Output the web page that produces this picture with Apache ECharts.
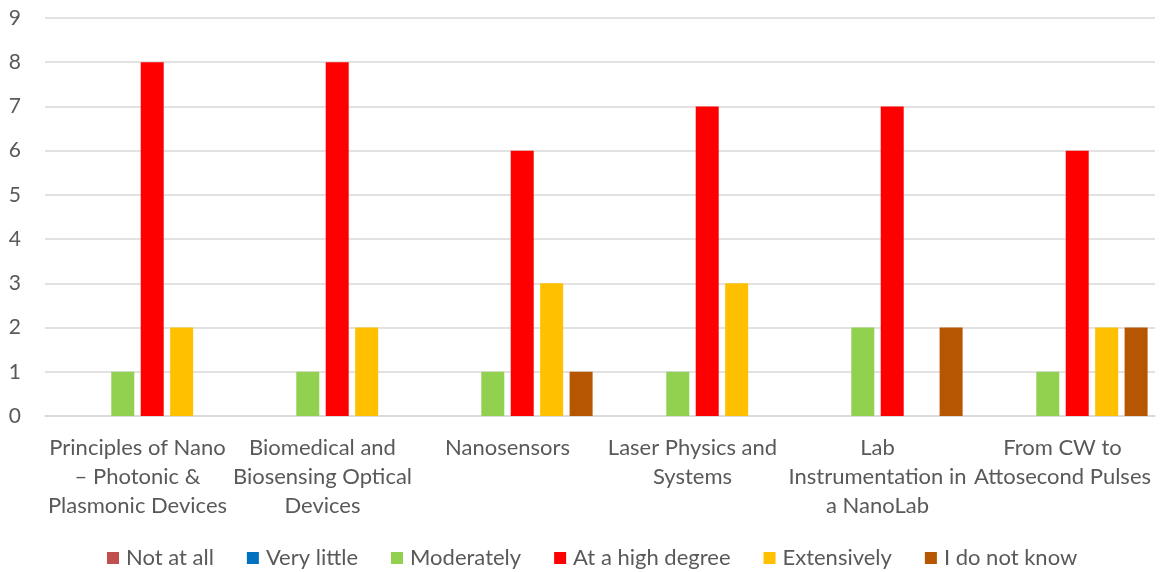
<!DOCTYPE html>
<html>
<head>
<meta charset="utf-8">
<script src="https://cdn.jsdelivr.net/npm/echarts@6/dist/echarts.min.js"></script>
<style>
  html, body { margin: 0; padding: 0; background: #fff; }
  #chart { width: 1160px; height: 572px; }
</style>
</head>
<body>
<div id="chart"></div>
<script>
// Courses rated by how much they contributed (number of responses)
const categories = [
  'Principles of Nano\n– Photonic &\nPlasmonic Devices',
  'Biomedical and\nBiosensing Optical\nDevices',
  'Nanosensors',
  'Laser Physics and\nSystems',
  'Lab\nInstrumentation in\na NanoLab',
  'From CW to\nAttosecond Pulses'
];
const notAtAll     = [0, 0, 0, 0, 0, 0];
const veryLittle   = [0, 0, 0, 0, 0, 0];
const moderately   = [1, 1, 1, 1, 2, 1];
const highDegree   = [8, 8, 6, 7, 7, 6];
const extensively  = [2, 2, 3, 3, 0, 2];
const doNotKnow    = [0, 0, 1, 0, 2, 2];
const yTicks = [0, 1, 2, 3, 4, 5, 6, 7, 8, 9];

const seriesDefs = [
  { name: 'Not at all',        data: notAtAll,    color: '#C0504D' },
  { name: 'Very little',       data: veryLittle,  color: '#0070C0' },
  { name: 'Moderately',        data: moderately,  color: '#92D050' },
  { name: 'At a high degree',  data: highDegree,  color: '#FF0000' },
  { name: 'Extensively',       data: extensively, color: '#FFC000' },
  { name: 'I do not know',     data: doNotKnow,   color: '#B75600' }
];

const font = 'Lato, "Liberation Sans", sans-serif';
const chart = echarts.init(document.getElementById('chart'));
chart.setOption({
  animation: false,
  grid: { left: 45, right: 5, top: 18, bottom: 156 },
  legend: {
    top: 547,
    left: 107,
    padding: 0,
    itemWidth: 12,
    itemHeight: 12,
    itemGap: 33,
    icon: 'rect',
    textStyle: { fontFamily: font, fontSize: 22, color: '#595959', padding: [0, 0, 0, 2] },
    data: seriesDefs.map(s => s.name)
  },
  xAxis: {
    type: 'category',
    data: categories,
    axisLine: { lineStyle: { color: '#D9D9D9', width: 1.5 } },
    axisTick: { show: false },
    axisLabel: {
      interval: 0,
      margin: 17,
      fontFamily: font,
      fontSize: 22,
      color: '#595959',
      lineHeight: 29,
      align: 'center'
    }
  },
  yAxis: {
    type: 'value',
    min: 0,
    max: yTicks[yTicks.length - 1],
    interval: 1,
    axisLine: { show: false },
    axisTick: { show: false },
    splitLine: { lineStyle: { color: '#D9D9D9', width: 1.5 } },
    axisLabel: {
      margin: 24,
      fontFamily: font,
      fontSize: 21,
      color: '#595959'
    }
  },
  series: seriesDefs.map(s => ({
    name: s.name,
    type: 'bar',
    data: s.data,
    barWidth: 23,
    barGap: '28%',
    barCategoryGap: '8%',
    itemStyle: { color: s.color }
  }))
});
</script>
</body>
</html>
